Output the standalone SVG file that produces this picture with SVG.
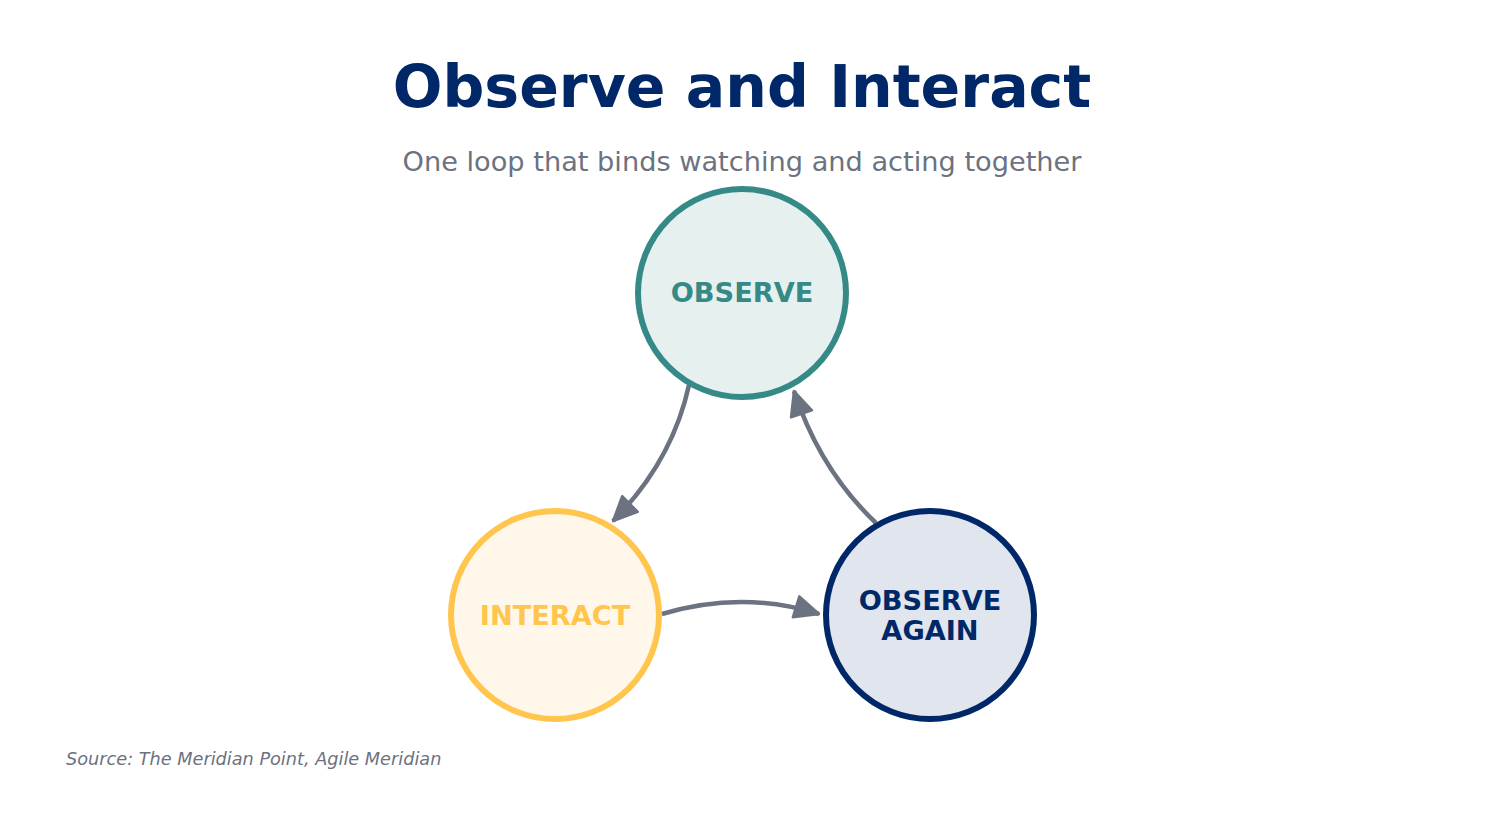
<svg xmlns="http://www.w3.org/2000/svg" width="1485" height="817" viewBox="0 0 1485 817">
<style>
text{font-family:"DejaVu Sans","Liberation Sans",sans-serif}
.title{font-size:58.5px;font-weight:bold;fill:#002868}
.sub{font-size:27.2px;fill:#6b7280}
.src{font-size:17.7px;font-style:italic;fill:#6b7280}
.lbl{font-size:27.2px;font-weight:bold}
.edge{fill:none;stroke:#6b7280;stroke-width:4.5}
.node{stroke-width:6}
</style>
<defs>
<marker id="ah" markerUnits="userSpaceOnUse" markerWidth="28" markerHeight="26" viewBox="0 0 28 26" refX="26" refY="13" orient="auto">
<path d="M2,2 L26,13 L2,24 z" fill="#6b7280" stroke="#6b7280" stroke-width="2.5" stroke-linejoin="round"/>
</marker>
</defs>
<rect width="1485" height="817" fill="#ffffff"/>
<text class="title" x="742" y="107" text-anchor="middle">Observe and Interact</text>
<text class="sub" x="742" y="171" text-anchor="middle">One loop that binds watching and acting together</text>
<g id="connectors">
<path class="edge" d="M689,385 Q672,462 613,521" marker-end="url(#ah)"/>
<path class="edge" d="M662,614 Q742,590 819,614" marker-end="url(#ah)"/>
<path class="edge" d="M876,523 Q820,470 794,391" marker-end="url(#ah)"/>
</g>
<g id="observe">
<circle class="node" cx="742" cy="293" r="104" fill="#e5f0ef" stroke="#358a87"/>
<text class="lbl" x="742" y="302" text-anchor="middle" fill="#358a87">OBSERVE</text>
</g>
<g id="interact">
<circle class="node" cx="555" cy="615" r="104" fill="#fff7ea" stroke="#ffc54d"/>
<text class="lbl" x="555" y="625" text-anchor="middle" fill="#ffc54d">INTERACT</text>
</g>
<g id="observe-again">
<circle class="node" cx="930" cy="615" r="104" fill="#e0e5ee" stroke="#002868"/>
<text class="lbl" x="930" y="610" text-anchor="middle" fill="#002868">OBSERVE</text>
<text class="lbl" x="930" y="640" text-anchor="middle" fill="#002868">AGAIN</text>
</g>
<text class="src" x="66" y="765">Source: The Meridian Point, Agile Meridian</text>
</svg>
